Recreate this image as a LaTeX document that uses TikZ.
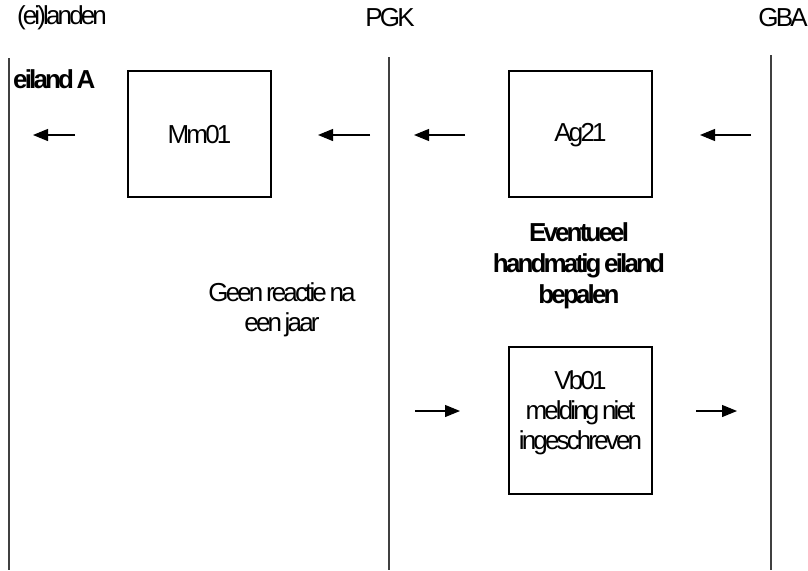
\documentclass[tikz,border=0pt]{standalone}
\usepackage{fontspec}
\setmainfont{Liberation Sans}[LetterSpace=-11, WordSpace=0.6]
\usetikzlibrary{arrows.meta}
\tikzset{
  lane/.style={line width=1.2pt, draw=black!75},
  msgbox/.style={draw=black, line width=1.2pt, rectangle, inner sep=0pt},
  lbl/.style={font=\fontsize{26}{30}\selectfont, align=center, inner sep=0pt},
  blbl/.style={font=\fontsize{26}{31}\selectfont\bfseries, align=center, inner sep=0pt},
  msg/.style={line width=1.2pt, -{Triangle[length=15pt,width=12pt]}}
}
\begin{document}
\begin{tikzpicture}[x=1pt,y=-1pt]
\useasboundingbox (0,0) rectangle (808,570);
% headers
\node[lbl] (h1) at (62,18) {(ei)landen};
\node[lbl] (h2) at (390,18) {PGK};
\node[lbl] (h3) at (783,18) {GBA};
% lanes
\coordinate (l1t) at (9,58);   \coordinate (l1b) at (9,570);
\coordinate (l2t) at (389,57); \coordinate (l2b) at (389,570);
\coordinate (l3t) at (771,55); \coordinate (l3b) at (771,570);
\draw[lane] (l1t) -- (l1b);
\draw[lane] (l2t) -- (l2b);
\draw[lane] (l3t) -- (l3b);
% labels
\node[blbl, anchor=west] (eil) at (13,79) {eiland A};
% boxes
\node[msgbox, minimum width=143pt, minimum height=126pt] (mm) at (199.5,134) {};
\node[lbl] (mmt) at (199.5,135) {Mm01};
\node[msgbox, minimum width=143pt, minimum height=126pt] (ag) at (580.5,134) {};
\node[lbl] (agt) at (580.5,135) {Ag21};
\node[msgbox, minimum width=143pt, minimum height=147pt] (vb) at (580.5,420.5) {};
\node[lbl] (vbt) at (580.5,413) {Vb01\\melding niet\\ingeschreven};
\node[blbl] (ev) at (579,266) {Eventueel\\handmatig eiland\\bepalen};
\node[lbl] (geen) at (282,310) {Geen reactie na\\een jaar};
% arrows
\coordinate (a1s) at (75,135);  \coordinate (a1e) at (33,135);
\coordinate (a2s) at (370,135); \coordinate (a2e) at (318,135);
\coordinate (a3s) at (465,135); \coordinate (a3e) at (414,135);
\coordinate (a4s) at (751,135); \coordinate (a4e) at (700,135);
\coordinate (a5s) at (415,411); \coordinate (a5e) at (460,411);
\coordinate (a6s) at (696,411); \coordinate (a6e) at (737,411);
\draw[msg] (a1s) -- (a1e);
\draw[msg] (a2s) -- (a2e);
\draw[msg] (a3s) -- (a3e);
\draw[msg] (a4s) -- (a4e);
\draw[msg] (a5s) -- (a5e);
\draw[msg] (a6s) -- (a6e);
\end{tikzpicture}
\end{document}
